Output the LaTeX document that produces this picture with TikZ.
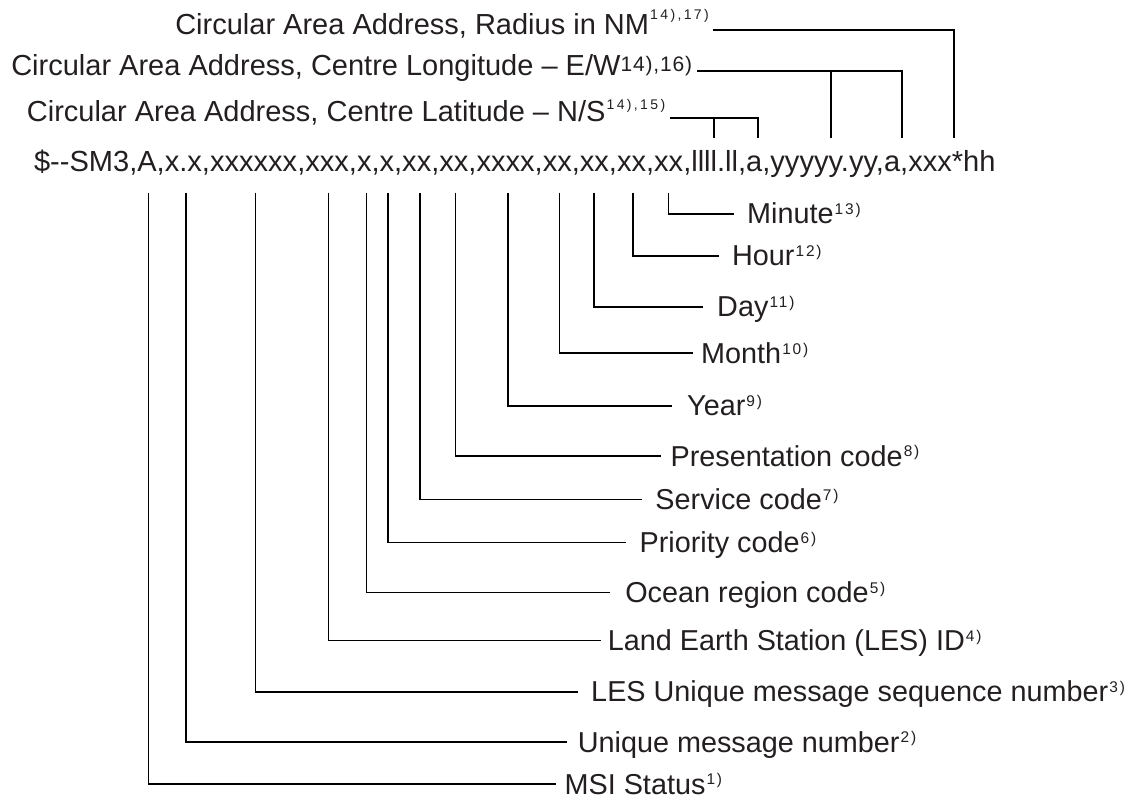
\documentclass[tikz,border=0pt]{standalone}
\usepackage{fontspec}
\setmainfont{Liberation Sans}
% letter-spaced small figures for the footnote marks
\newfontfamily\notefont[LetterSpace=17]{Liberation Sans}
\newfontfamily\fieldnotefont[LetterSpace=12]{Liberation Sans}
\newfontfamily\widenotefont[LetterSpace=4]{Liberation Sans}
\definecolor{ink}{RGB}{35,31,32}
% footnote mark after a field label
\newcommand\fnote[1]{\kern0.8pt\raisebox{6.9pt}{\fontsize{11.6pt}{11.6pt}\fieldnotefont #1}}

\begin{document}
\begin{tikzpicture}[x=0.75pt,y=-0.75pt,
  conn/.style={line width=1.35pt, draw=black},
  sentence/.style={anchor=base west, inner sep=0pt, outer sep=0pt, text=ink,
    font=\fontsize{21.8pt}{26pt}\selectfont},
  toplabel/.style={anchor=base west, inner sep=0pt, outer sep=0pt, text=ink,
    font=\fontsize{21.75pt}{26pt}\selectfont},
  botlabel/.style={anchor=west, inner xsep=#1, inner ysep=0pt, outer sep=0pt,
    text height=15pt, text depth=0pt, text=ink,
    font=\fontsize{21.6pt}{26pt}\selectfont}]

\useasboundingbox (0,0) rectangle (1128,798);

% the sentence
\node[sentence] (msg) at (34,171.5)
  {\$-{}-SM3,A,x.x,xxxxxx,xxx,x,x,xx,xx,xxxx,xx,xx,xx,xx,llll.ll,a,yyyyy.yy,a,xxx*hh};

% fields above the sentence
\node[toplabel] (rad) at (175.3,34.3)
  {Circular Area Address, Radius in NM\kern0.8pt\raisebox{11.25pt}{\fontsize{10.5pt}{10.5pt}\notefont 14),17)}};
\node[toplabel] (lon) at (11.3,76)
  {Circular Area Address, Centre Longitude – E/W\raisebox{3.2pt}{\fontsize{15.75pt}{15.75pt}\widenotefont 14),16)}};
\node[toplabel] (lat) at (26.9,121.7)
  {Circular Area Address, Centre Latitude – N/S\kern0.8pt\raisebox{8.8pt}{\fontsize{10.5pt}{10.5pt}\notefont 14),15)}};

\coordinate (tRad) at (954,138.3);
\coordinate (tLon1) at (831,138.3);
\coordinate (tLon2) at (902,138.3);
\coordinate (tLat1) at (714.3,138.3);
\coordinate (tLat2) at (757.7,138.3);

\coordinate (radS) at ([xshift=3pt,yshift=3.2pt]rad.base east);
\coordinate (lonS) at ([xshift=3.5pt,yshift=3.7pt]lon.base east);
\coordinate (latS) at ([xshift=3.5pt,yshift=3pt]lat.base east);

\draw[conn] (radS) -| (tRad);
\draw[conn] (lonS) -| (tLon2);
\draw[conn] (tLon1) -- (tLon1 |- lonS);
\draw[conn] (latS) -| (tLat2);
\draw[conn] (tLat1) -- (tLat1 |- latS);

% fields below the sentence
\foreach \n/\x in {msi/148.5, umn/186, lesu/255.5, lesid/328.5, ocean/366.5,
                   prio/388, serv/420, pres/455.5, year/508, month/559.5,
                   day/594, hour/633, minute/668.5}
  \coordinate (f\n) at (\x,192.7);

\node[botlabel=6.45pt] (msi)    at (556,784)    {MSI Status\fnote{1)}};
\node[botlabel=7.9pt]  (umn)    at (567.3,742)  {Unique message number\fnote{2)}};
\node[botlabel=9.7pt]  (lesu)   at (578.3,691.7){LES Unique message sequence number\fnote{3)}};
\node[botlabel=5.4pt]  (lesid)  at (600.7,640.5){Land Earth Station (LES) ID\fnote{4)}};
\node[botlabel=11.5pt] (ocean)  at (610,592.5)  {Ocean region code\fnote{5)}};
\node[botlabel=10.2pt] (prio)   at (626,542.5)  {Priority code\fnote{6)}};
\node[botlabel=10.3pt] (serv)   at (641.7,499.5){Service code\fnote{7)}};
\node[botlabel=7.4pt]  (pres)   at (660.7,456)  {Presentation code\fnote{8)}};
\node[botlabel=11.2pt] (year)   at (672.3,406)  {Year\fnote{9)}};
\node[botlabel=5.9pt]  (month)  at (693.3,353.3){Month\fnote{10)}};
\node[botlabel=10.9pt] (day)    at (702.7,306.7){Day\fnote{11)}};
\node[botlabel=9.8pt]  (hour)   at (719,256)    {Hour\fnote{12)}};
\node[botlabel=9.9pt]  (minute) at (734,214)    {Minute\fnote{13)}};

\foreach \n in {msi, umn, lesu, lesid, ocean, prio, serv, pres, year, month, day, hour, minute}
  \draw[conn] (f\n) |- (\n.west);

\end{tikzpicture}
\end{document}
